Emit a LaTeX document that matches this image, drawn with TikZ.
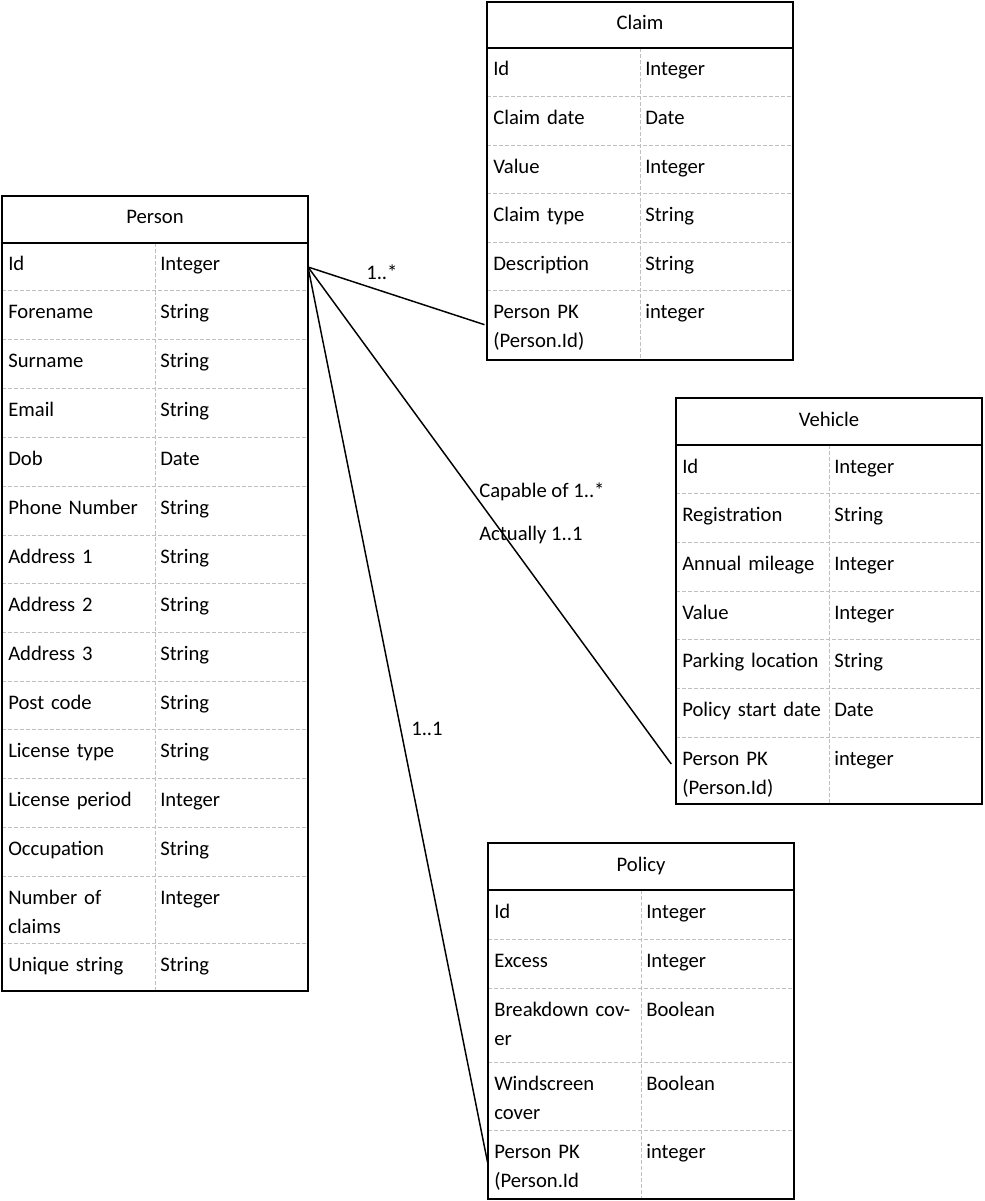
\documentclass[tikz,border=0pt]{standalone}
\usepackage{fontspec}
\setmainfont{Carlito}
\usepackage{tikz}
\usetikzlibrary{calc}
\tikzstyle{tablebox} = [draw=black, line width=2pt]
\tikzstyle{headline} = [draw=black, line width=2pt]
\tikzstyle{rowline} = [draw=black!25, line width=0.75pt, dash pattern=on 3pt off 1.5pt]
\tikzstyle{rowbox} = [rectangle, anchor=north west, inner sep=0pt, outer sep=0pt, minimum width=229.5pt]
\tikzstyle{fieldtext} = [anchor=base west, inner sep=0pt, text width=110pt, align=left, font=\fontsize{15.5}{21.75}\selectfont]
\tikzstyle{headtext} = [anchor=base, inner sep=0pt, font=\fontsize{15.5}{21.75}\selectfont]
\tikzstyle{cardtext} = [anchor=base west, inner sep=0pt, font=\fontsize{15.5}{21.75}\selectfont]
\tikzstyle{link} = [draw=black, line width=1.1pt]

\begin{document}
\begin{tikzpicture}[x=0.75pt, y=-0.75pt]
\useasboundingbox (0,0) rectangle (984,1201);

% Person
\node (personHead) [headtext] at (155,224) {Person};
\foreach \rowtop/\rowh/\fname/\ftype [count=\i] in {243/48/Id/Integer, 291/49/Forename/String, 340/48/Surname/String, 388/49/Email/String, 437/49/Dob/Date, 486/49/Phone Number/String, 535/48/Address 1/String, 583/49/Address 2/String, 632/49/Address 3/String, 681/48/Post code/String, 729/49/License type/String, 778/49/License period/Integer, 827/49/Occupation/String, 876/67/{Number of\\claims}/Integer, 943/48/Unique string/String}{
  \node (person\i) [rowbox, minimum height=\rowh*0.75pt] at (2,\rowtop) {};
  \draw[rowline] (person\i.north west) -- (person\i.north east);
  \node (personField\i) [fieldtext] at ($(person\i.north west)+(6,28)$) {\fname};
  \node (personType\i) [fieldtext] at ($(person\i.north west)+(158,28)$) {\ftype};
}
\draw[rowline] (155,243) -- (155,991);
\draw[headline] (2,243) -- (308,243);
\draw[tablebox] (2,196) rectangle (308,991);

% Claim
\node (claimHead) [headtext] at (640,30) {Claim};
\foreach \rowtop/\rowh/\fname/\ftype [count=\i] in {48/49/Id/Integer, 97/49/Claim date/Date, 146/48/Value/Integer, 194/49/Claim type/String, 243/48/Description/String, 291/69/{Person PK\\(Person.Id)}/integer}{
  \node (claim\i) [rowbox, minimum height=\rowh*0.75pt] at (487,\rowtop) {};
  \draw[rowline] (claim\i.north west) -- (claim\i.north east);
  \node (claimField\i) [fieldtext] at ($(claim\i.north west)+(6,28)$) {\fname};
  \node (claimType\i) [fieldtext] at ($(claim\i.north west)+(158,28)$) {\ftype};
}
\draw[rowline] (640,48) -- (640,360);
\draw[headline] (487,48) -- (793,48);
\draw[tablebox] (487,2) rectangle (793,360);

% Vehicle
\node (vehicleHead) [headtext] at (829,426) {Vehicle};
\foreach \rowtop/\rowh/\fname/\ftype [count=\i] in {445/48/Id/Integer, 493/49/Registration/String, 542/49/Annual mileage/Integer, 591/48/Value/Integer, 639/49/Parking location/String, 688/49/Policy start date/Date, 737/67/{Person PK\\(Person.Id)}/integer}{
  \node (vehicle\i) [rowbox, minimum height=\rowh*0.75pt] at (676,\rowtop) {};
  \draw[rowline] (vehicle\i.north west) -- (vehicle\i.north east);
  \node (vehicleField\i) [fieldtext] at ($(vehicle\i.north west)+(6,28)$) {\fname};
  \node (vehicleType\i) [fieldtext] at ($(vehicle\i.north west)+(158,28)$) {\ftype};
}
\draw[rowline] (829,445) -- (829,804);
\draw[headline] (676,445) -- (982,445);
\draw[tablebox] (676,398) rectangle (982,804);

% Policy
\node (policyHead) [headtext] at (641,871) {Policy};
\foreach \rowtop/\rowh/\fname/\ftype [count=\i] in {890/49/Id/Integer, 939/49/Excess/Integer, 988/74/{Breakdown cov-\\er}/Boolean, 1062/68/{Windscreen\\cover}/Boolean, 1130/69/{Person PK\\(Person.Id}/integer}{
  \node (policy\i) [rowbox, minimum height=\rowh*0.75pt] at (488,\rowtop) {};
  \draw[rowline] (policy\i.north west) -- (policy\i.north east);
  \node (policyField\i) [fieldtext] at ($(policy\i.north west)+(6,28)$) {\fname};
  \node (policyType\i) [fieldtext] at ($(policy\i.north west)+(158,28)$) {\ftype};
}
\draw[rowline] (641,890) -- (641,1199);
\draw[headline] (488,890) -- (794,890);
\draw[tablebox] (488,843) rectangle (794,1199);

% links
\draw[link, shorten >=2pt] (person1.east) -- (claim6.west);
\draw[link, shorten >=6pt] (person1.east) -- (vehicle7.west);
\draw[link, shorten >=1pt] (person1.east) -- (policy5.west);
\node (claimCard) [cardtext] at (366,280) {1..*};
\node (vehicleCardA) [cardtext] at (479,497) {Capable of 1..*};
\node (vehicleCardB) [cardtext] at (479,540) {Actually 1..1};
\node (policyCard) [cardtext] at (411,735) {1..1};
\end{tikzpicture}
\end{document}
